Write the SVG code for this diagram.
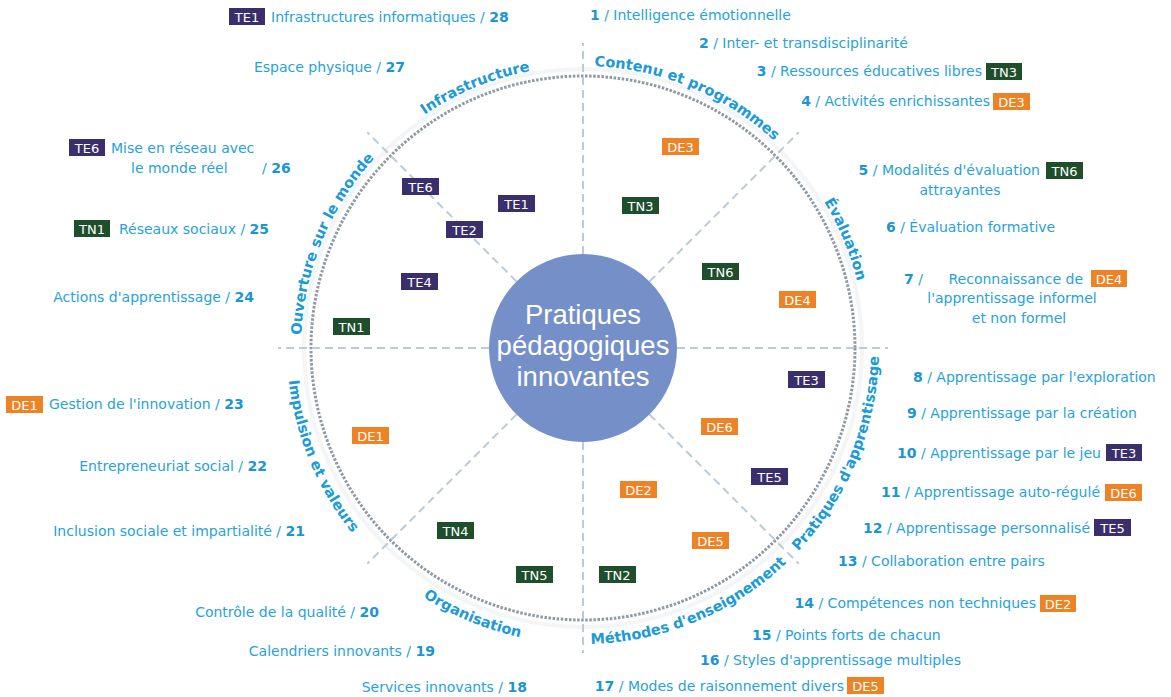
<svg xmlns="http://www.w3.org/2000/svg" xmlns:xlink="http://www.w3.org/1999/xlink" width="1171" height="697" viewBox="0 0 1171 697">
<defs>
<style>
.lb{font-family:"DejaVu Sans",Verdana,sans-serif;font-size:14px;fill:#27a2dd}
.n{font-weight:bold;fill:#1b95d4}
.arc{font-family:"DejaVu Sans",Verdana,sans-serif;font-weight:bold;font-size:14.5px;fill:#1a9ad8}
.bt{font-family:"DejaVu Sans",Verdana,sans-serif;font-size:13px;fill:#ffffff;text-anchor:middle}
.te{fill:#3a2f6c}
.tn{fill:#1e4e2b}
.de{fill:#ee8325}
.div{stroke:#bccbd6;stroke-width:2;stroke-dasharray:8 5;fill:none}
.ctr{font-family:"Liberation Sans",Arial,sans-serif;font-size:27.5px;fill:#ffffff;text-anchor:middle}
</style>
<path id="topArc" d="M 301 348 A 282 282 0 0 1 865 348"/>
<path id="botArc" d="M 287 348 A 296 296 0 0 0 879 348"/>
</defs>
<rect width="1171" height="697" fill="#ffffff"/>

<g id="ring">
<circle cx="583" cy="348" r="279" fill="none" stroke="#f3f5f7" stroke-width="4"/>
<circle cx="583" cy="348" r="272" fill="none" stroke="#8e99a3" stroke-width="3" stroke-dasharray="2.5 1.6"/>
</g>

<g id="connectors">
<line class="div" x1="583" y1="254" x2="583" y2="43"/>
<line class="div" x1="583" y1="442" x2="583" y2="653"/>
<line class="div" x1="489" y1="348" x2="278" y2="348"/>
<line class="div" x1="677" y1="348" x2="888" y2="348"/>
<line class="div" x1="516.5" y1="281.5" x2="367.3" y2="132.3"/>
<line class="div" x1="649.5" y1="281.5" x2="798.7" y2="132.3"/>
<line class="div" x1="516.5" y1="414.5" x2="367.3" y2="563.7"/>
<line class="div" x1="649.5" y1="414.5" x2="798.7" y2="563.7"/>
</g>

<g id="center">
<circle cx="583" cy="348" r="94" fill="#7590c8"/>
<text class="ctr" x="583" y="324">Pratiques</text>
<text class="ctr" x="583" y="355">pédagogiques</text>
<text class="ctr" x="583" y="386">innovantes</text>
</g>

<g id="categories">
<text class="arc"><textPath xlink:href="#topArc" href="#topArc" startOffset="12.5%" text-anchor="middle">Ouverture sur le monde</textPath></text>
<text class="arc"><textPath xlink:href="#topArc" href="#topArc" startOffset="37.5%" text-anchor="middle">Infrastructure</textPath></text>
<text class="arc"><textPath xlink:href="#topArc" href="#topArc" startOffset="62.5%" text-anchor="middle">Contenu et programmes</textPath></text>
<text class="arc"><textPath xlink:href="#topArc" href="#topArc" startOffset="87.5%" text-anchor="middle">Évaluation</textPath></text>
<text class="arc"><textPath xlink:href="#botArc" href="#botArc" startOffset="12.5%" text-anchor="middle">Impulsion et valeurs</textPath></text>
<text class="arc"><textPath xlink:href="#botArc" href="#botArc" startOffset="37.5%" text-anchor="middle">Organisation</textPath></text>
<text class="arc"><textPath xlink:href="#botArc" href="#botArc" startOffset="62.5%" text-anchor="middle">Méthodes d'enseignement</textPath></text>
<text class="arc"><textPath xlink:href="#botArc" href="#botArc" startOffset="87.5%" text-anchor="middle">Pratiques d'apprentissage</textPath></text>
</g>

<g id="inner-badges">
<g id="in-DE3"><rect class="de" x="662" y="138" width="37" height="17"/><text class="bt" x="680.5" y="151.5">DE3</text></g>
<g id="in-TN3"><rect class="tn" x="622" y="197" width="37" height="17"/><text class="bt" x="640.5" y="210.5">TN3</text></g>
<g id="in-TE6"><rect class="te" x="402" y="178" width="37" height="17"/><text class="bt" x="420.5" y="191.5">TE6</text></g>
<g id="in-TE1"><rect class="te" x="498" y="195" width="37" height="17"/><text class="bt" x="516.5" y="208.5">TE1</text></g>
<g id="in-TE2"><rect class="te" x="446" y="221" width="37" height="17"/><text class="bt" x="464.5" y="234.5">TE2</text></g>
<g id="in-TE4"><rect class="te" x="401" y="273" width="37" height="17"/><text class="bt" x="419.5" y="286.5">TE4</text></g>
<g id="in-TN1"><rect class="tn" x="333" y="318" width="37" height="17"/><text class="bt" x="351.5" y="331.5">TN1</text></g>
<g id="in-TN6"><rect class="tn" x="702" y="263" width="37" height="17"/><text class="bt" x="720.5" y="276.5">TN6</text></g>
<g id="in-DE4"><rect class="de" x="779" y="291" width="37" height="17"/><text class="bt" x="797.5" y="304.5">DE4</text></g>
<g id="in-TE3"><rect class="te" x="788" y="371" width="37" height="17"/><text class="bt" x="806.5" y="384.5">TE3</text></g>
<g id="in-DE6"><rect class="de" x="701" y="418" width="37" height="17"/><text class="bt" x="719.5" y="431.5">DE6</text></g>
<g id="in-TE5"><rect class="te" x="751" y="468" width="37" height="17"/><text class="bt" x="769.5" y="481.5">TE5</text></g>
<g id="in-DE2"><rect class="de" x="620" y="481" width="37" height="17"/><text class="bt" x="638.5" y="494.5">DE2</text></g>
<g id="in-DE5"><rect class="de" x="692" y="532" width="37" height="17"/><text class="bt" x="710.5" y="545.5">DE5</text></g>
<g id="in-TN2"><rect class="tn" x="599" y="566" width="37" height="17"/><text class="bt" x="617.5" y="579.5">TN2</text></g>
<g id="in-TN5"><rect class="tn" x="516" y="566" width="37" height="17"/><text class="bt" x="534.5" y="579.5">TN5</text></g>
<g id="in-TN4"><rect class="tn" x="437" y="522" width="37" height="17"/><text class="bt" x="455.5" y="535.5">TN4</text></g>
<g id="in-DE1"><rect class="de" x="352" y="427" width="37" height="17"/><text class="bt" x="370.5" y="440.5">DE1</text></g>
</g>

<g id="left-items">
<g id="item28"><rect class="te" x="229" y="8" width="36" height="17"/><text class="bt" x="247" y="21.5">TE1</text><text class="lb" x="271" y="22">Infrastructures informatiques / <tspan class="n">28</tspan></text></g>
<g id="item27"><text class="lb" x="405" y="72" text-anchor="end">Espace physique / <tspan class="n">27</tspan></text></g>
<g id="item26"><rect class="te" x="69" y="139" width="36" height="17"/><text class="bt" x="87" y="152.5">TE6</text><text class="lb" x="111" y="153">Mise en réseau avec</text><text class="lb" x="131" y="173">le monde réel</text><text class="lb" x="262" y="173">/ <tspan class="n">26</tspan></text></g>
<g id="item25"><rect class="tn" x="74" y="220" width="36" height="17"/><text class="bt" x="92" y="233.5">TN1</text><text class="lb" x="119" y="234">Réseaux sociaux / <tspan class="n">25</tspan></text></g>
<g id="item24"><text class="lb" x="254" y="302" text-anchor="end">Actions d'apprentissage / <tspan class="n">24</tspan></text></g>
<g id="item23"><rect class="de" x="6" y="396" width="37" height="17"/><text class="bt" x="24.5" y="409.5">DE1</text><text class="lb" x="49" y="409">Gestion de l'innovation / <tspan class="n">23</tspan></text></g>
<g id="item22"><text class="lb" x="267" y="471" text-anchor="end">Entrepreneuriat social / <tspan class="n">22</tspan></text></g>
<g id="item21"><text class="lb" x="305" y="536" text-anchor="end">Inclusion sociale et impartialité / <tspan class="n">21</tspan></text></g>
<g id="item20"><text class="lb" x="379" y="617" text-anchor="end">Contrôle de la qualité / <tspan class="n">20</tspan></text></g>
<g id="item19"><text class="lb" x="435" y="656" text-anchor="end">Calendriers innovants / <tspan class="n">19</tspan></text></g>
<g id="item18"><text class="lb" x="527" y="692" text-anchor="end">Services innovants / <tspan class="n">18</tspan></text></g>
</g>

<g id="right-items">
<g id="item1"><text class="lb" x="590" y="20"><tspan class="n">1</tspan> / Intelligence émotionnelle</text></g>
<g id="item2"><text class="lb" x="699" y="48"><tspan class="n">2</tspan> / Inter- et transdisciplinarité</text></g>
<g id="item3"><text class="lb" x="982" y="76" text-anchor="end"><tspan class="n">3</tspan> / Ressources éducatives libres</text><rect class="tn" x="986" y="63" width="36" height="17"/><text class="bt" x="1004" y="76.5">TN3</text></g>
<g id="item4"><text class="lb" x="990" y="106" text-anchor="end"><tspan class="n">4</tspan> / Activités enrichissantes</text><rect class="de" x="993" y="93" width="37" height="17"/><text class="bt" x="1011.5" y="106.5">DE3</text></g>
<g id="item5"><text class="lb" x="1040" y="175" text-anchor="end"><tspan class="n">5</tspan> / Modalités d'évaluation</text><rect class="tn" x="1046" y="162" width="37" height="17"/><text class="bt" x="1064.5" y="175.5">TN6</text><text class="lb" x="960" y="195" text-anchor="middle">attrayantes</text></g>
<g id="item6"><text class="lb" x="886" y="232"><tspan class="n">6</tspan> / Évaluation formative</text></g>
<g id="item7"><text class="lb" x="904" y="284"><tspan class="n">7</tspan> /</text><text class="lb" x="1083" y="284" text-anchor="end">Reconnaissance de</text><rect class="de" x="1091" y="270" width="36" height="17"/><text class="bt" x="1109" y="283.5">DE4</text><text class="lb" x="1012" y="303" text-anchor="middle">l'apprentissage informel</text><text class="lb" x="1019" y="323" text-anchor="middle">et non formel</text></g>
<g id="item8"><text class="lb" x="913" y="382"><tspan class="n">8</tspan> / Apprentissage par l'exploration</text></g>
<g id="item9"><text class="lb" x="907" y="418"><tspan class="n">9</tspan> / Apprentissage par la création</text></g>
<g id="item10"><text class="lb" x="1101" y="458" text-anchor="end"><tspan class="n">10</tspan> / Apprentissage par le jeu</text><rect class="te" x="1106" y="444" width="36" height="17"/><text class="bt" x="1124" y="457.5">TE3</text></g>
<g id="item11"><text class="lb" x="1100" y="497" text-anchor="end"><tspan class="n">11</tspan> / Apprentissage auto-régulé</text><rect class="de" x="1105" y="484" width="37" height="17"/><text class="bt" x="1123.5" y="497.5">DE6</text></g>
<g id="item12"><text class="lb" x="1090" y="533" text-anchor="end"><tspan class="n">12</tspan> / Apprentissage personnalisé</text><rect class="te" x="1094" y="519" width="37" height="17"/><text class="bt" x="1112.5" y="532.5">TE5</text></g>
<g id="item13"><text class="lb" x="838" y="566"><tspan class="n">13</tspan> / Collaboration entre pairs</text></g>
<g id="item14"><text class="lb" x="1036" y="608" text-anchor="end"><tspan class="n">14</tspan> / Compétences non techniques</text><rect class="de" x="1040" y="595" width="36" height="17"/><text class="bt" x="1058" y="608.5">DE2</text></g>
<g id="item15"><text class="lb" x="752" y="640"><tspan class="n">15</tspan> / Points forts de chacun</text></g>
<g id="item16"><text class="lb" x="700" y="665"><tspan class="n">16</tspan> / Styles d'apprentissage multiples</text></g>
<g id="item17"><text class="lb" x="844" y="691" text-anchor="end"><tspan class="n">17</tspan> / Modes de raisonnement divers</text><rect class="de" x="847" y="677" width="37" height="17"/><text class="bt" x="865.5" y="690.5">DE5</text></g>
</g>
</svg>
